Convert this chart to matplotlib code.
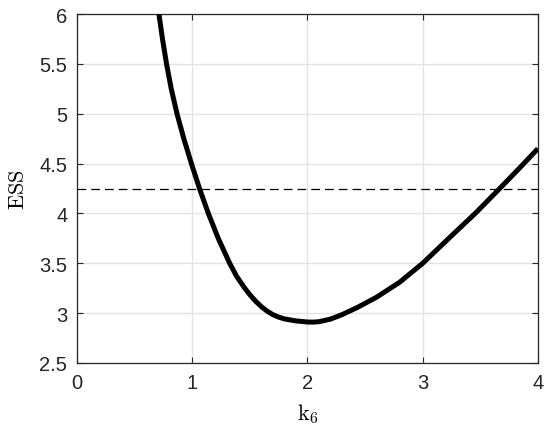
import matplotlib
matplotlib.use("Agg")
import matplotlib.pyplot as plt

# Data
k6 = [0.711, 0.742, 0.777, 0.818, 0.868, 0.927, 0.993, 1.063, 1.140, 1.226, 1.325,
      1.385, 1.45, 1.5, 1.55, 1.6, 1.65, 1.7, 1.75, 1.8, 1.9, 2.0, 2.05,
      2.1, 2.2, 2.3, 2.43, 2.6, 2.8, 3.0, 3.24, 3.46, 3.66, 3.84, 4.0]
ess = [6.0, 5.75, 5.5, 5.25, 5.0, 4.75, 4.5, 4.25, 4.0, 3.75, 3.5,
       3.37, 3.26, 3.185, 3.12, 3.065, 3.02, 2.985, 2.96, 2.942, 2.922, 2.911, 2.91,
       2.914, 2.94, 2.985, 3.055, 3.16, 3.31, 3.5, 3.765, 4.005, 4.24, 4.455, 4.65]
threshold = 4.25

xticks = [0, 1, 2, 3, 4]
yticks = [2.5, 3, 3.5, 4, 4.5, 5, 5.5, 6]
ytick_labels = ["2.5", "3", "3.5", "4", "4.5", "5", "5.5", "6"]

plt.rcParams['mathtext.fontset'] = 'cm'

fig = plt.figure(figsize=(5.5, 4.31), dpi=100)
ax = fig.add_axes([0.14, 0.1555, 0.838, 0.8095])

ax.plot(k6, ess, color='black', linewidth=3.6, solid_capstyle='butt',
        solid_joinstyle='round', zorder=3)
ax.axhline(threshold, color='black', linewidth=0.9, linestyle=(0, (7, 4)), zorder=2)

ax.set_xlim(0, 4)
ax.set_ylim(2.5, 6)
ax.set_xticks(xticks)
ax.set_yticks(yticks)
ax.set_yticklabels(ytick_labels)

ax.grid(True, color='#e3e3e3', linewidth=1.0)
ax.set_axisbelow(True)

for s in ax.spines.values():
    s.set_color('#262626')
    s.set_linewidth(0.9)

ax.tick_params(axis='both', direction='in', length=4, width=0.8, colors='#262626',
               top=True, right=True, labelsize=14.5, pad=7)
for lab in ax.get_xticklabels() + ax.get_yticklabels():
    lab.set_family('Liberation Sans')

ax.set_xlabel(r'$\mathrm{k_6}$', fontsize=16, labelpad=7)
ax.set_ylabel(r'$\mathrm{ESS}$', fontsize=16, labelpad=8)

fig.savefig('out.png', dpi=100)
